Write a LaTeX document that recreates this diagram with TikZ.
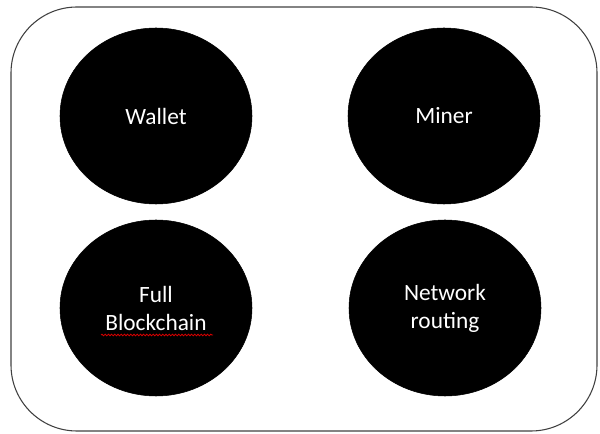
\documentclass[tikz,border=0pt]{standalone}
\usepackage{fontspec}
\setmainfont{Carlito}
\usetikzlibrary{calc,shapes.geometric,decorations.pathmorphing}
\tikzset{
	blob/.style={ellipse, fill=black, draw=black, minimum width=144pt, minimum height=132pt, inner sep=0pt, text=white, align=center, font=\fontsize{17.5}{21}\selectfont}
}

\begin{document}
\begin{tikzpicture}[x=0.75pt, y=-0.75pt]
			%%%%% START %%%%%
			
			\useasboundingbox (0, 0) rectangle (600, 434);
			\draw[line width=0.8pt, color=black!75, rounded corners=49.5pt] (11, 7) rectangle (597, 431);
			
			\node[blob] (wallet) at (156, 116) {Wallet};
			\node[blob] (miner) at (444, 116) {Miner};
			\node[blob] (chain) at (156, 308) {Full\\Blockchain};
			\node[blob] (routing) at (445, 308) {Network\\routing};
			
			\draw[red!85!black, line width=0.6pt, decorate, decoration={snake, amplitude=0.6pt, segment length=2.4pt}] ($(chain.center)+(-55, 27)$) -- ($(chain.center)+(57, 27)$);
			
			%%%%% END %%%%%
		\end{tikzpicture}
\end{document}
